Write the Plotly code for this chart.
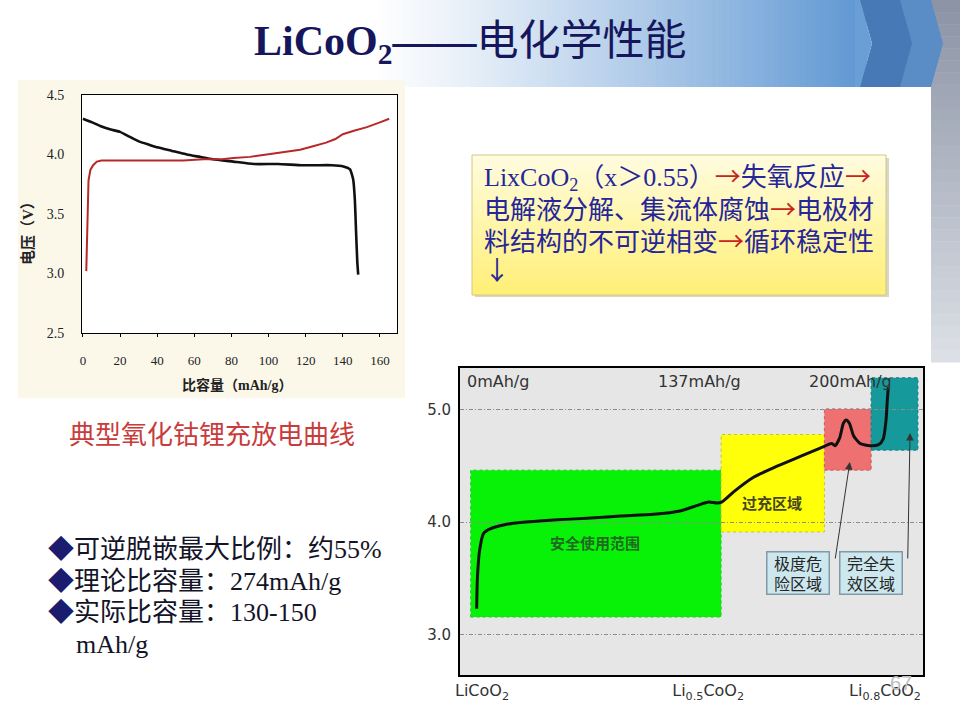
import plotly.graph_objects as go

# left chart: typical LiCoO2 charge / discharge curve (capacity mAh/g, voltage V)
discharge_cap = [0, 5, 9.3, 15, 20, 25, 30, 36, 40, 48, 56, 63, 70, 81, 92, 105, 118, 126, 134, 140.3, 143.9, 145.6, 146.5, 147.1, 147.8, 148.3]
discharge_v = [4.30, 4.27, 4.24, 4.21, 4.19, 4.15, 4.11, 4.08, 4.06, 4.03, 4.00, 3.98, 3.96, 3.94, 3.92, 3.92, 3.91, 3.91, 3.91, 3.90, 3.875, 3.79, 3.62, 3.37, 3.10, 2.99]
charge_cap = [1.8, 2.2, 2.5, 3.0, 4.0, 5.5, 7.5, 10, 30, 54, 65, 75, 81, 90, 99, 108, 117, 124, 131, 136, 140, 146, 153, 160, 165]
charge_v = [3.02, 3.30, 3.52, 3.78, 3.87, 3.91, 3.94, 3.95, 3.95, 3.95, 3.96, 3.96, 3.97, 3.98, 4.00, 4.02, 4.04, 4.07, 4.10, 4.13, 4.17, 4.20, 4.23, 4.27, 4.30]
cap_ticks = [0, 20, 40, 60, 80, 100, 120, 140, 160]
volt_ticks = [2.5, 3.0, 3.5, 4.0, 4.5]

# right chart: schematic charge curve vs. delithiation (arbitrary 0-100 position, voltage V)
curve_x = [3.6, 3.75, 4.2, 5.1, 6.5, 9.4, 13.0, 20.2, 27.4, 34.6, 41.8, 47.5, 51.1, 53.7, 55.5, 56.6, 59.1, 63.4, 67.8,
           73.5, 77.8, 80.3, 81.0, 82.0, 82.8, 83.4, 84.1, 85.0, 86.4, 88.6, 90.4, 91.4, 92.0, 92.3, 92.5]
curve_v = [3.23, 3.49, 3.74, 3.90, 3.94, 3.975, 3.997, 4.02, 4.034, 4.054, 4.07, 4.10, 4.147, 4.18, 4.17, 4.18, 4.27, 4.40, 4.486,
           4.585, 4.66, 4.70, 4.68, 4.75, 4.88, 4.91, 4.88, 4.77, 4.70, 4.68, 4.69, 4.74, 4.90, 5.09, 5.20]
zone_x0 = [2.3, 56.4, 78.7, 88.8]
zone_x1 = [56.4, 78.7, 88.8, 98.9]
zone_v0 = [3.156, 3.913, 4.463, 4.641]
zone_v1 = [4.463, 4.78, 5.008, 5.285]
zone_labels = ["安全使用范围", "过充区域"]
zone_label_x = [29.2, 67.3]
zone_label_v = [3.815, 4.171]
callout_labels = ["极度危<br>险区域", "完全失<br>效区域"]
callout_x = [73.0, 88.7]
callout_v = [3.548, 3.548]
arrow_tail_x = [81.0, 96.7]
arrow_tail_v = [3.663, 3.663]
arrow_head_x = [84.2, 97.2]
arrow_head_v = [4.535, 4.794]
comp_labels = ["LiCoO<sub>2</sub>", "Li<sub>0.5</sub>CoO<sub>2</sub>", "Li<sub>0.8</sub>CoO<sub>2</sub>"]
comp_pos = [4.75, 53.6, 91.8]
cap_labels = ["0mAh/g", "137mAh/g", "200mAh/g"]
cap_pos = [8.1, 51.8, 84.4]
grid_volts = [3.0, 4.0, 5.0]

# slide text
RED_ARROW = "<span style='color:#c8241c;font-family:Noto Sans CJK SC'>→</span>"
title_text = "<b>LiCoO<sub>2</sub>——</b>电化学性能"
box_lines = ["LixCoO<sub>2</sub>（x＞0.55）" + RED_ARROW + "失氧反应" + RED_ARROW,
             "电解液分解、集流体腐蚀" + RED_ARROW + "电极材",
             "料结构的不可逆相变" + RED_ARROW + "循环稳定性",
             "<span style='font-family:Noto Sans CJK SC'>↓</span>"]
caption = "典型氧化钴锂充放电曲线"
bullets = ["可逆脱嵌最大比例：约55%", "理论比容量：274mAh/g", "实际比容量：130-150", "mAh/g"]
bullet_mark = [True, True, True, False]

W, H = 960, 720
def px(x):
    return x / W
def py(y):
    return 1 - y / H

CJK = "Liberation Serif, Noto Sans CJK SC"
SANS = "DejaVu Sans, Noto Sans CJK SC"

fig = go.Figure()

fig.add_trace(go.Scatter(x=discharge_cap, y=discharge_v, mode="lines",
                         line=dict(color="#111111", width=2.6, shape="spline", smoothing=0.4),
                         xaxis="x", yaxis="y"))
fig.add_trace(go.Scatter(x=charge_cap, y=charge_v, mode="lines",
                         line=dict(color="#b82828", width=2), xaxis="x", yaxis="y"))
fig.add_trace(go.Scatter(x=curve_x, y=curve_v, mode="lines",
                         line=dict(color="#111111", width=3, shape="spline", smoothing=0.6),
                         xaxis="x2", yaxis="y2"))

shapes = []

# right grey bar
n = 30
for i in range(n):
    t = i / (n - 1)
    c = (int(140 + t * 80), int(148 + t * 76), int(166 + t * 64))
    shapes.append(dict(type="rect", xref="paper", yref="paper", layer="below", line_width=0,
                       x0=px(931), x1=px(960), y0=py((i + 1) * 362 / n + 0.5), y1=py(i * 362 / n),
                       fillcolor="rgb(%d,%d,%d)" % c))

# title banner gradient
n = 90
x_start, x_end = 370, 866
for i in range(n):
    t = (i / (n - 1)) ** 1.15
    c = (int(255 - t * 160), int(255 - t * 104), int(255 - t * 44))
    shapes.append(dict(type="rect", xref="paper", yref="paper", layer="below", line_width=0,
                       x0=px(x_start + i * (x_end - x_start) / n),
                       x1=px(x_start + (i + 1) * (x_end - x_start) / n + 0.6),
                       y0=py(87), y1=py(0), fillcolor="rgb(%d,%d,%d)" % c))

def chev(x0, depth, wid, color):
    pts = [(x0, 0), (x0 + wid, 0), (x0 + wid + depth, 43.5), (x0 + wid, 87), (x0, 87), (x0 + depth, 43.5)]
    path = "M " + " L ".join("%.4f,%.4f" % (px(a), py(b)) for a, b in pts) + " Z"
    return dict(type="path", xref="paper", yref="paper", layer="below", line_width=0,
                fillcolor=color, path=path)

shapes.append(chev(899, 12, 32, "#5a8cc6"))
shapes.append(chev(860, 12, 40, "#4679b6"))
pts = [(855, 0), (860, 0), (872, 43.5), (860, 87), (855, 87)]
shapes.append(dict(type="path", xref="paper", yref="paper", layer="below", line_width=0,
                   fillcolor="#6a9fd6",
                   path="M " + " L ".join("%.4f,%.4f" % (px(a), py(b)) for a, b in pts) + " Z"))

# left chart cream background + white plot area
shapes.append(dict(type="rect", xref="paper", yref="paper", layer="below", line_width=0,
                   x0=px(18), x1=px(405), y0=py(398), y1=py(80), fillcolor="#fbf8ea"))
shapes.append(dict(type="rect", xref="x domain", yref="y domain", layer="below", line_width=0,
                   x0=0, x1=1, y0=0, y1=1, fillcolor="#ffffff"))

# yellow text box with shadow
shapes.append(dict(type="rect", xref="paper", yref="paper", layer="below", line_width=0,
                   x0=px(475), x1=px(889), y0=py(297), y1=py(158), fillcolor="#d9d6c4"))
n = 28
for i in range(n):
    t = i / (n - 1)
    c = (255, int(252 - t * 12), int(222 - t * 102))
    shapes.append(dict(type="rect", xref="paper", yref="paper", layer="below", line_width=0,
                       x0=px(472), x1=px(886), y0=py(155 + (i + 1) * 140 / n + 0.3),
                       y1=py(155 + i * 140 / n), fillcolor="rgb(%d,%d,%d)" % c))
shapes.append(dict(type="rect", xref="paper", yref="paper", layer="below",
                   line=dict(color="#d2c684", width=1),
                   x0=px(472), x1=px(886), y0=py(295), y1=py(155), fillcolor="rgba(0,0,0,0)"))

# right chart background and zones
shapes.append(dict(type="rect", xref="x2 domain", yref="y2 domain", layer="below", line_width=0,
                   x0=0, x1=1, y0=0, y1=1, fillcolor="#e6e6e6"))
zone_colors = ["#08f208", "#ffff0a", "#ef7070", "#15999b"]
zone_edges = ["#2cc42c", "#c8c030", "#c85a5a", "#137a7c"]
for i in range(len(zone_x0)):
    shapes.append(dict(type="rect", xref="x2", yref="y2", layer="below",
                       line=dict(color=zone_edges[i], width=1, dash="dot"),
                       x0=zone_x0[i], x1=zone_x1[i], y0=zone_v0[i], y1=zone_v1[i],
                       fillcolor=zone_colors[i]))

def note(text, x, y, size, color, family=CJK, xanchor="left", **kw):
    return dict(text=text, x=px(x), y=py(y), xref="paper", yref="paper", xanchor=xanchor,
                yanchor="middle", showarrow=False, font=dict(family=family, size=size, color=color), **kw)

annotations = []
annotations.append(note(title_text, 252, 44, 42, "#16165c"))

# left chart axis titles
annotations.append(note("<b>比容量（mAh/g）</b>", 237, 385, 14, "#222222", xanchor="center"))
annotations.append(note("<b>电压（V）</b>", 28, 230, 15, "#222222", xanchor="center", textangle=-90))

annotations.append(note(caption, 67, 435, 26, "#c83c3c"))

box_y = [175, 208, 240, 268]
for i, line in enumerate(box_lines):
    annotations.append(note(line, 482, box_y[i], 26, "#26269a"))

bullet_y = [549, 581, 612, 644]
for i, line in enumerate(bullets):
    if bullet_mark[i]:
        annotations.append(note("<span style='color:#1c1c6e'>◆</span>" + line, 46, bullet_y[i], 26, "#141428"))
    else:
        annotations.append(note(line, 74, bullet_y[i], 26, "#141428"))

# right chart texts
for i, lab in enumerate(cap_labels):
    annotations.append(dict(text=lab, x=cap_pos[i], y=5.25, xref="x2", yref="y2", showarrow=False,
                            font=dict(family=SANS, size=16, color="#333333")))
for i, lab in enumerate(zone_labels):
    annotations.append(dict(text="<b>" + lab + "</b>", x=zone_label_x[i], y=zone_label_v[i],
                            xref="x2", yref="y2", showarrow=False,
                            font=dict(family="Noto Sans CJK SC", size=15,
                                      color=["#1f6a1f", "#46461e"][i])))
for i, lab in enumerate(callout_labels):
    annotations.append(dict(text=lab, x=callout_x[i], y=callout_v[i], xref="x2", yref="y2",
                            showarrow=False, bgcolor="#cde7ee", bordercolor="#7f9aa8", borderwidth=1.5,
                            borderpad=1, width=59, height=39,
                            font=dict(family="Noto Sans CJK SC", size=16, color="#262626")))
for i in range(len(arrow_head_x)):
    annotations.append(dict(text="", x=arrow_head_x[i], y=arrow_head_v[i], xref="x2", yref="y2",
                            ax=arrow_tail_x[i], ay=arrow_tail_v[i], axref="x2", ayref="y2",
                            showarrow=True, arrowhead=2, arrowsize=1.5, arrowwidth=1,
                            arrowcolor="#333333", standoff=0))
annotations.append(note("67", 901, 683, 20, "#bdbdbd", family="Liberation Sans", xanchor="center"))

fig.update_layout(
    width=W, height=H,
    margin=dict(l=0, r=0, t=0, b=0, pad=0, autoexpand=False),
    paper_bgcolor="white",
    plot_bgcolor="rgba(0,0,0,0)",
    showlegend=False,
    shapes=shapes,
    annotations=annotations,
    xaxis=dict(domain=[px(82), px(397)], range=[-0.5, 169.2], anchor="y", automargin=False,
               showline=True, mirror=True, linecolor="black", linewidth=1,
               showgrid=False, zeroline=False, ticks="outside", ticklen=3, tickcolor="black",
               tickvals=cap_ticks, ticklabelstandoff=12,
               tickfont=dict(family="Liberation Serif", size=13, color="#222222")),
    yaxis=dict(domain=[py(333), py(95)], range=[2.5, 4.5], anchor="x", automargin=False,
               showline=True, mirror=True, linecolor="black", linewidth=1,
               showgrid=False, zeroline=False, ticks="", tickvals=volt_ticks, tickformat=".1f",
               ticklabelstandoff=14,
               tickfont=dict(family="Liberation Serif", size=14, color="#222222")),
    xaxis2=dict(domain=[px(460), px(923)], range=[0, 100], anchor="y2", automargin=False,
                showline=True, mirror=True, linecolor="black", linewidth=2,
                showgrid=False, zeroline=False, ticks="", tickvals=comp_pos, ticktext=comp_labels,
                tickfont=dict(family=SANS, size=16, color="#333333")),
    yaxis2=dict(domain=[py(675), py(368)], range=[2.64, 5.372], anchor="x2", automargin=False,
                showline=True, mirror=True, linecolor="black", linewidth=2,
                showgrid=True, gridcolor="#8c8c8c", gridwidth=1, griddash="4px,2px,1px,2px",
                zeroline=False, ticks="", tickvals=grid_volts, tickformat=".1f", ticklabelstandoff=4,
                tickfont=dict(family=SANS, size=15, color="#333333")),
)

# page body has a default 8px margin; drop it so the slide sits at the window origin
fig.write_html("out.html", config={"displayModeBar": False},
               post_script="document.body.style.margin='0';")
